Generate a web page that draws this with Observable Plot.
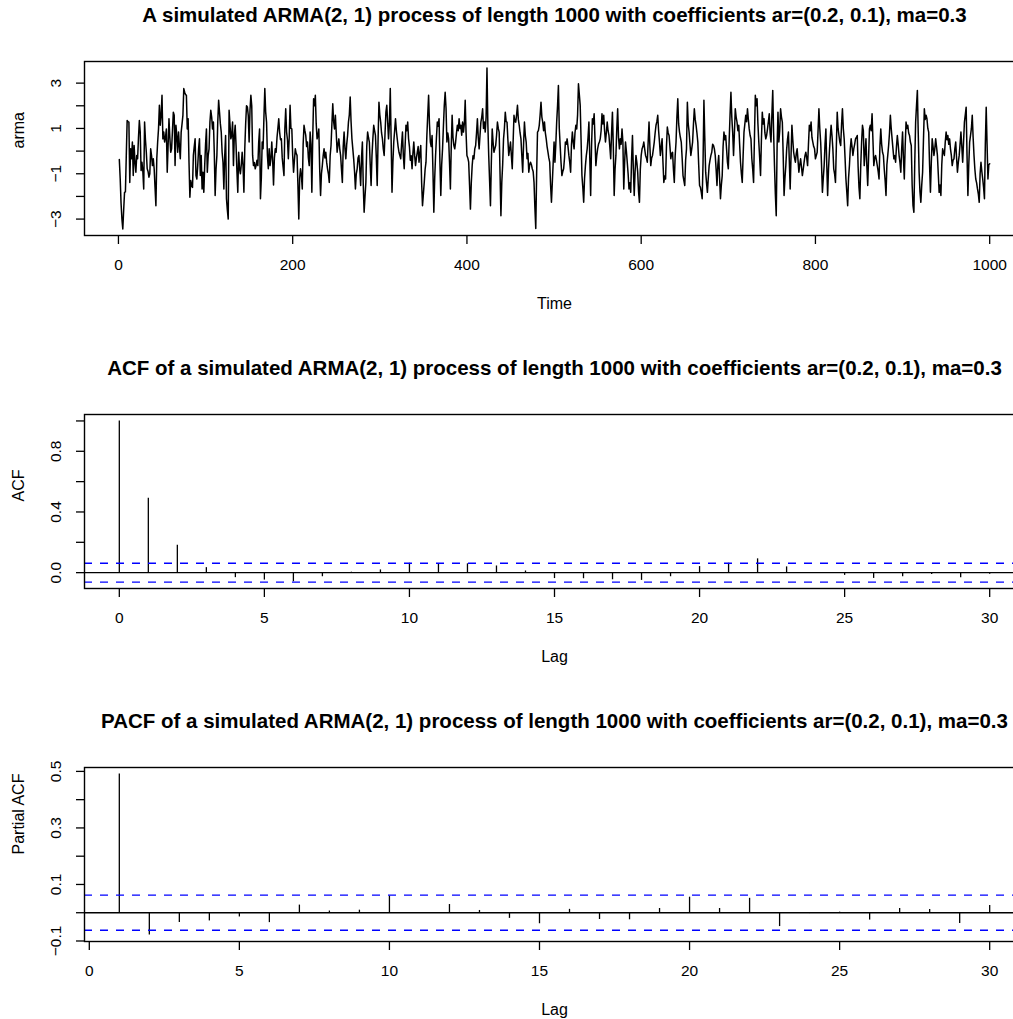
<!DOCTYPE html>
<html><head><meta charset="utf-8">
<script src="https://cdn.jsdelivr.net/npm/d3@7"></script>
<script src="https://cdn.jsdelivr.net/npm/@observablehq/plot@0.6"></script>
<style>
html,body{margin:0;padding:0;background:#fff;overflow:hidden;}
#root{width:1040px;}
#root svg{display:block;max-width:none;}
</style></head><body><div id="root"></div>
<script>
const armaTitle = "A simulated ARMA(2, 1) process of length 1000 with coefficients ar=(0.2, 0.1), ma=0.3";
const acfTitle = "ACF of a simulated ARMA(2, 1) process of length 1000 with coefficients ar=(0.2, 0.1), ma=0.3";
const pacfTitle = "PACF of a simulated ARMA(2, 1) process of length 1000 with coefficients ar=(0.2, 0.1), ma=0.3";

// simulated series, time 1..1000
const armaPart1 = [-0.37,-1.2,-2.3,-3.0,-3.44,-2.6,-1.82,-1.8,-0.2,1.35,
1.3,1.28,-1.38,0.1,-0.34,0.4,-1.08,0.25,-0.5,-0.93,
-0.19,-0.34,0.6,1.35,0.84,-0.86,-0.49,-0.9,-1.67,1.28,
0.5,-0.05,-0.78,-0.9,-1.15,-1.0,0.1,-0.2,-0.64,-0.34,
-0.78,-1.6,-2.41,-0.34,0.4,0.98,2.02,1.14,1.6,2.46,
0.54,0.84,0.4,0.6,0.98,-0.93,0.25,1.43,0.6,-0.05,
0.1,0.9,1.72,1.58,-0.64,1.14,0.69,-0.05,0.84,0.2,
-0.34,0.84,1.2,1.58,2.76,2.6,2.5,2.46,0.98,1.43,
-0.49,-2.04,-1.3,-1.52,-1.6,-0.19,0.2,0.54,-1.08,-1.23,
-0.64,0.1,0.54,-1.08,-0.19,-1.67,-0.93,-1.82,-0.64,0.3];
const armaPart2 = [0.98,-0.93,-0.2,0.1,1.28,1.8,1.5,0.98,1.28,-0.05,
-1.96,-0.8,-0.19,1.28,2.24,1.72,1.2,0.84,-0.05,-0.49,
-1.67,-0.19,0.69,-2.1,-2.6,-3.0,1.8,1.2,0.54,0.69,
1.28,-0.64,0.69,1.14,0.25,-0.9,-1.82,-0.05,-0.78,-1.0,
-0.6,-0.05,-0.64,-1.82,0.1,1.2,2.0,1.95,1.58,0.4,
1.8,2.46,2.0,-0.19,-0.64,-0.5,-0.78,-0.64,-0.4,-0.64,
0.4,0.98,-2.1,-1.2,0.4,0.1,1.5,2.76,1.72,1.28,
-0.19,-0.78,0.1,-0.64,-0.34,0.4,-0.4,-1.5,-0.3,0.1,
-0.05,0.6,1.0,1.43,0.84,0.5,0.54,-0.3,-0.7,-1.08,
1.0,1.87,0.84,0.5,-0.34,0.6,2.02,1.0,0.98,-0.2];
const armaPart3 = [-0.93,-0.4,0.1,-0.1,-0.19,-1.5,-3.0,-1.2,-0.78,-1.1,
-1.67,0.3,1.14,0.9,0.69,0.2,0.4,-0.3,-0.64,0.84,
0.3,-1.82,0.6,2.31,2.0,2.46,1.2,0.54,0.7,0.98,
-0.8,-1.96,-1.0,-0.64,-0.2,0.1,-0.3,-0.05,-0.5,-0.78,
-1.0,-1.38,-0.2,0.25,1.2,2.09,1.3,0.98,1.58,0.8,
-0.05,0.3,0.54,0.1,-0.19,-0.8,-1.38,0.2,0.84,0.1,
-0.34,0.3,0.69,1.28,1.6,2.39,1.3,0.54,0.1,-0.34,
-0.9,-1.67,-1.0,-0.78,-0.3,-0.19,-0.8,-1.52,-0.3,0.4,
-1.5,-2.7,-2.0,-1.38,0.2,0.84,0.6,0.4,-0.6,-1.52,
-0.2,0.54,1.14,0.9,0.69,-0.3,-1.52,0.5,2.16,1.6];
const armaPart4 = [1.28,0.8,0.54,0.1,-0.19,0.8,1.72,2.02,1.3,0.54,
1.2,2.76,0.5,-1.82,-0.5,0.4,0.9,1.43,0.9,0.54,
0.2,-0.05,-0.2,-0.34,0.3,0.84,-0.2,-0.78,0.2,1.14,
0.9,1.28,0.54,0.2,-0.4,-0.2,-0.78,-0.1,0.4,-0.2,
-0.64,-0.3,-0.05,0.2,-0.49,-0.1,0.25,-1.4,-2.41,-1.9,
-1.38,-0.8,-0.49,0.69,1.6,2.46,1.2,0.4,0.2,0.69,
-0.9,-2.7,-1.2,-0.19,0.6,1.28,1.1,1.43,-0.5,-1.96,
-0.6,0.1,1.1,2.02,2.6,1.9,0.4,0.8,0.54,-0.5,
-1.67,0.2,1.58,0.6,0.25,0.1,0.4,0.8,1.14,0.9,
1.43,1.0,1.14,0.7,1.28,0.84,1.2,2.24,0.8,-0.19];
const armaPart5 = [-0.3,-0.49,-1.5,-2.56,-1.4,-0.64,-0.2,-0.34,0.1,0.25,
0.8,1.43,0.6,0.1,0.7,1.28,1.5,1.87,1.0,1.28,
0.84,1.5,3.67,1.2,-0.19,-1.3,-2.41,-0.5,0.98,0.4,
-0.05,0.1,0.25,0.7,1.28,1.0,0.84,-1.0,-2.85,-1.38,
-0.6,0.54,1.0,1.72,1.3,1.28,0.5,-0.19,0.1,0.4,
-0.2,-0.78,0.4,1.58,1.3,1.28,1.6,2.02,1.4,1.14,
0.8,0.54,-0.2,-0.93,0.3,1.28,0.7,0.4,-0.34,-0.1,
-0.93,-0.6,-0.49,-0.6,-0.78,-0.9,-1.38,-2.5,-3.41,-1.0,
0.84,0.9,1.14,1.6,2.16,1.5,1.28,0.9,1.28,0.8,
0.54,0.2,-0.05,-0.3,-0.49,-1.5,-2.26,-1.38,-0.5,0.4];
const armaPart6 = [-0.49,0.3,1.28,2.0,2.9,1.0,0.25,-0.5,-1.08,-0.9,
-0.78,-0.3,0.4,0.3,0.54,0.2,-0.19,-0.5,-0.93,0.3,
0.84,0.4,0.1,0.8,1.14,0.98,1.6,2.97,2.5,2.02,
0.5,-1.08,-1.6,-2.26,-1.2,-0.64,-0.2,0.1,0.6,1.28,
-0.3,-1.96,0.2,1.43,1.2,1.65,0.5,-0.64,-0.2,0.1,
0.3,0.4,0.54,0.9,1.65,1.2,1.58,0.9,0.4,0.8,
1.28,0.9,0.69,0.2,-0.34,0.8,1.72,0.2,-1.96,-0.8,
-0.19,1.0,1.87,0.6,0.1,0.54,0.3,0.98,0.4,-1.67,
-0.5,0.4,0.0,-0.49,-1.0,-1.67,-1.4,-1.82,-0.3,0.69,
-0.8,-1.96,-0.9,-0.19,-0.5,-0.93,-1.8,-2.26,-0.8,-0.19];
const armaPart7 = [0.1,0.2,0.4,0.1,-0.19,-0.3,-0.49,0.4,1.28,0.2,
-0.64,-0.3,-0.19,0.1,0.4,0.8,1.14,1.3,1.58,0.9,
0.4,-0.19,0.2,0.54,-0.5,-1.38,-1.1,-1.23,0.2,1.06,
0.8,0.69,0.2,-0.34,-0.1,-0.05,-0.8,-1.38,-0.2,0.4,
1.5,2.31,1.2,0.84,0.6,0.4,-0.3,-1.08,-1.3,-1.52,
-0.4,0.1,2.16,1.2,0.84,0.3,-0.19,0.1,0.4,1.2,
1.87,1.4,1.14,0.8,0.4,-0.6,-1.52,-1.6,-1.82,-2.1,
-0.5,2.24,0.6,-0.93,-1.4,-1.82,-1.2,-0.64,-0.4,-0.19,
-0.05,0.3,0.25,0.1,-0.19,-0.8,-1.52,-0.6,-0.19,-1.2,
-2.1,-1.5,-1.08,0.2,0.84,0.5,0.69,0.1,-0.49,-0.78];
const armaPart8 = [0.5,1.6,2.6,1.5,0.84,-0.19,0.8,1.87,1.5,1.28,
0.9,1.14,0.3,-0.49,-1.0,-1.38,-0.2,0.84,1.2,1.58,
1.3,1.87,1.4,0.98,0.7,0.54,-0.34,-0.8,-1.38,0.6,
2.46,2.0,2.31,1.2,0.4,-0.3,-1.08,0.5,1.72,1.2,
1.43,0.8,0.54,0.7,0.98,1.3,1.65,0.8,0.4,1.6,
2.68,0.8,-0.64,-1.9,-2.85,0.2,1.72,0.4,0.9,1.87,
1.5,1.28,-0.2,-1.96,-1.2,-0.64,0.1,0.54,0.84,-0.4,
-1.67,-0.2,1.14,0.5,-0.05,-0.3,-0.49,-0.1,0.1,-0.4,
-0.93,-0.6,-0.34,-0.7,-1.08,-0.8,-0.49,-0.2,-0.05,-0.3,
-0.64,0.3,1.14,0.9,1.28,0.6,0.4,0.2,0.1,-0.34];
const armaPart9 = [-0.2,-0.05,0.9,1.87,1.0,0.4,-0.6,-1.82,-1.2,-0.64,
0.3,0.98,-0.6,-1.96,-0.8,-0.05,0.6,1.14,0.69,0.1,
-0.78,-1.0,-1.38,0.2,1.72,1.0,0.69,0.4,0.25,1.2,
1.87,1.0,0.54,-0.3,-1.23,-1.8,-2.41,-1.2,-0.64,0.1,
0.54,0.2,-0.19,0.1,0.3,0.54,0.6,0.69,-0.7,-1.6,
-2.1,-0.64,0.4,1.14,0.9,-0.64,-0.05,0.54,-0.64,-1.52,
-0.3,0.98,1.14,0.9,1.65,0.5,-0.64,-0.3,-0.19,-0.4,
-0.64,-0.9,-1.23,0.2,0.98,0.3,-0.05,-0.19,-0.8,-1.3,
-1.96,-0.6,-0.19,0.25,0.8,1.58,1.0,0.54,0.1,-0.34,
-0.2,-0.49,0.2,0.69,0.3,-0.19,-0.5,-0.93,0.1,0.84];
const armaPart10 = [-0.3,-1.23,0.2,1.28,1.0,1.14,0.8,0.69,0.4,0.25,
-1.5,-2.41,-2.7,-0.5,1.28,2.0,2.68,0.8,-0.93,-1.8,
-2.26,-1.5,-0.93,0.5,1.87,1.4,1.58,1.43,1.0,0.84,
-0.6,-1.82,-0.5,0.54,0.2,-0.19,0.1,0.54,0.2,-0.19,
-1.0,-1.82,-1.5,-1.96,-0.6,0.1,-0.05,-0.19,0.4,0.84,
0.5,0.69,0.3,0.54,0.1,-0.19,-0.64,-0.4,-0.34,0.1,
0.4,-0.3,-0.93,-0.5,-0.19,0.3,0.84,0.2,-0.49,0.4,
1.28,1.6,1.94,-0.2,-1.96,-0.6,0.4,0.69,1.0,1.58,
0.6,-0.19,-0.8,-1.23,-1.4,-1.67,-1.9,-2.26,-1.0,-0.49,
-0.9,-1.23,-1.6,-2.1,0.3,1.94,0.3,-1.23,-0.6,-0.56];

const acfLags = [0,1,2,3,4,5,6,7,8,9,10,11,12,13,14,15,16,17,18,19,20,21,22,23,24,25,26,27,28,29,30];
const acfValues = [1.0,0.49,0.18,0.033,-0.033,-0.049,-0.06,-0.027,0.003,0.018,0.062,0.055,0.058,0.044,0.011,-0.039,-0.04,-0.047,-0.051,-0.027,0.04,0.062,0.091,0.038,-0.003,-0.018,-0.038,-0.027,-0.013,-0.033,-0.01];
const pacfLags = [1,2,3,4,5,6,7,8,9,10,11,12,13,14,15,16,17,18,19,20,21,22,23,24,25,26,27,28,29,30];
const pacfValues = [0.491,-0.079,-0.035,-0.029,-0.015,-0.035,0.027,0.006,0.009,0.059,-0.002,0.029,0.008,-0.02,-0.039,0.012,-0.024,-0.025,0.015,0.055,0.015,0.051,-0.049,-0.003,0.002,-0.026,0.015,0.011,-0.038,0.026];
const ciBound = 0.062; // 1.96 / sqrt(1000)

const timeTicks = [0,200,400,600,800,1000];
const armaYTicks = [-3,-2,-1,0,1,2,3];
const armaYLabels = [-3,-1,1,3];
const lagTicks = [0,5,10,15,20,25,30];
const acfYTicks = [0,0.2,0.4,0.6,0.8,1.0];
const acfYLabels = [0,0.4,0.8];
const pacfYTicks = [-0.1,0,0.1,0.2,0.3,0.4,0.5];
const pacfYLabels = [-0.1,0.1,0.3,0.5];

const arma = [].concat(armaPart1,armaPart2,armaPart3,armaPart4,armaPart5,armaPart6,armaPart7,armaPart8,armaPart9,armaPart10);
const armaData = arma.map((v,i)=>({t:i+1, v}));
const acfData = acfLags.map((lag,i)=>({lag, v: acfValues[i]}));
const pacfData = pacfLags.map((lag,i)=>({lag, v: pacfValues[i]}));

const FONT = "'Liberation Sans', Arial, Helvetica, sans-serif";
const pad = ([a,b]) => [a-(b-a)*0.04, b+(b-a)*0.04];
const minus = s => String(s).replace("-", "\u2212");

function panel({xDomain, yDomain, xTicks, yTicks, yLabels, yFmt, xLabel, yLabel, title, marks}) {
  return Plot.plot({
    width: 1040, height: 353,
    marginTop: 61, marginBottom: 118, marginLeft: 84, marginRight: 16,
    x: {domain: xDomain}, y: {domain: yDomain},
    style: {background: "white", overflow: "visible", fontFamily: FONT},
    marks: [
      ...marks,
      Plot.frame({stroke: "black", strokeWidth: 1.4}),
      Plot.axisX({ticks: xTicks, tickSize: 9, tickFormat: () => "", strokeWidth: 1.3, label: null}),
      Plot.axisY({ticks: yTicks, tickSize: 8, tickFormat: () => "", strokeWidth: 1.3, label: null}),
      Plot.text(xTicks, {x: d => d, frameAnchor: "bottom", dy: 30, lineAnchor: "middle", text: d => minus(d), fontSize: 15.5, fontFamily: FONT, fill: "black"}),
      Plot.text(yLabels, {y: d => d, frameAnchor: "left", dx: -28, rotate: -90, textAnchor: "middle", lineAnchor: "middle", text: d => minus(yFmt(d)), fontSize: 15.5, fontFamily: FONT, fill: "black"}),
      Plot.text([xLabel], {frameAnchor: "bottom", dy: 68, lineAnchor: "middle", fontSize: 16, fontFamily: FONT, fill: "black"}),
      Plot.text([yLabel], {frameAnchor: "left", dx: -66, rotate: -90, lineAnchor: "middle", fontSize: 16, fontFamily: FONT, fill: "black"}),
      Plot.text([title], {frameAnchor: "top", dy: -46, lineAnchor: "middle", fontSize: 20.5, fontWeight: "bold", fontFamily: FONT, fill: "black"})
    ]
  });
}

const root = document.getElementById("root");

root.append(panel({
  xDomain: pad([1, arma.length]),
  yDomain: pad(d3.extent(arma)),
  xTicks: timeTicks, yTicks: armaYTicks, yLabels: armaYLabels, yFmt: d => String(d),
  xLabel: "Time", yLabel: "arma", title: armaTitle,
  marks: [Plot.line(armaData, {x: "t", y: "v", stroke: "black", strokeWidth: 1.5})]
}));

const acfExt = d3.extent([...acfValues, ciBound, -ciBound]);
root.append(panel({
  xDomain: pad(d3.extent(acfLags)),
  yDomain: pad(acfExt),
  xTicks: lagTicks, yTicks: acfYTicks, yLabels: acfYLabels, yFmt: d => d.toFixed(1),
  xLabel: "Lag", yLabel: "ACF", title: acfTitle,
  marks: [
    Plot.ruleX(acfData, {x: "lag", y1: 0, y2: "v", stroke: "black", strokeWidth: 1.3}),
    Plot.ruleY([0], {stroke: "black", strokeWidth: 1.3}),
    Plot.ruleY([ciBound, -ciBound], {stroke: "#0000ff", strokeWidth: 1.3, strokeDasharray: "8,8"})
  ]
}));

const pacfExt = d3.extent([...pacfValues, ciBound, -ciBound]);
root.append(panel({
  xDomain: pad(d3.extent(pacfLags)),
  yDomain: pad(pacfExt),
  xTicks: lagTicks, yTicks: pacfYTicks, yLabels: pacfYLabels, yFmt: d => d.toFixed(1),
  xLabel: "Lag", yLabel: "Partial ACF", title: pacfTitle,
  marks: [
    Plot.ruleX(pacfData, {x: "lag", y1: 0, y2: "v", stroke: "black", strokeWidth: 1.3}),
    Plot.ruleY([0], {stroke: "black", strokeWidth: 1.3}),
    Plot.ruleY([ciBound, -ciBound], {stroke: "#0000ff", strokeWidth: 1.3, strokeDasharray: "8,8"})
  ]
}));
</script></body></html>
